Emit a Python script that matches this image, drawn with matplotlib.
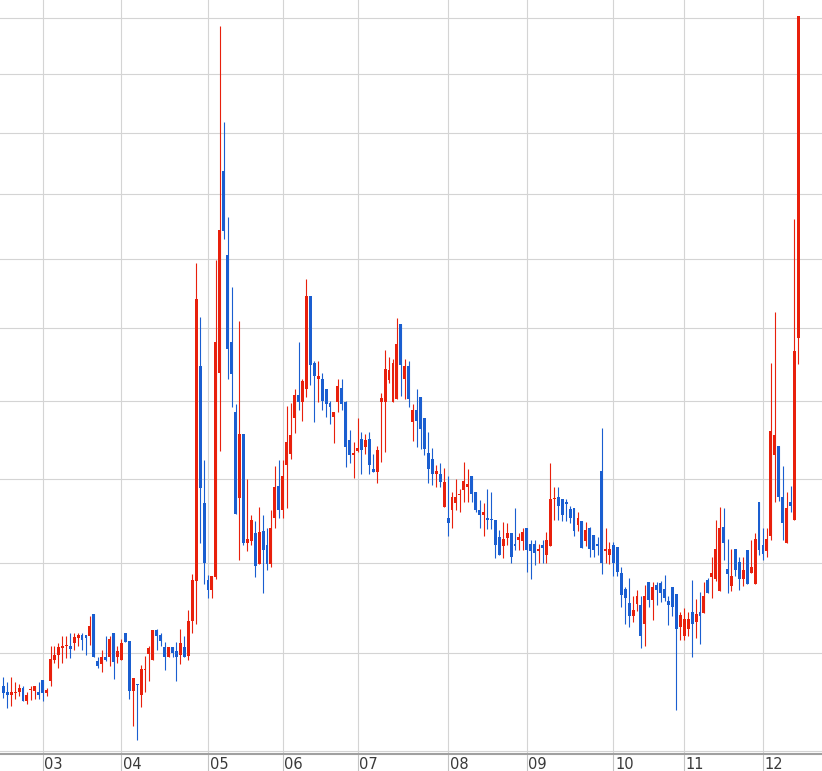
"""candlestick chart, 2002-2012, log price axis, year gridlines only"""

import numpy as np
import matplotlib
matplotlib.use("Agg")
import matplotlib.pyplot as plt
from matplotlib.ticker import NullLocator

# candles, oldest first (price, won)
opens = [
    2430, 2418, 2413, 2417, 2418, 2426, 2399, 2423, 2421, 2418,
    2443, 2416, 2442, 2486, 2497, 2512, 2515, 2516, 2522, 2532,
    2538, 2538, 2537, 2585, 2483, 2477, 2492, 2492, 2544, 2492,
    2486, 2543, 2526, 2421, 2434, 2413, 2465, 2499, 2486, 2550,
    2538, 2514, 2491, 2514, 2505, 2497, 2514, 2494, 2569, 2658,
    3194, 2843, 2661, 2638, 2668, 3176, 3775, 3512, 3262, 3073,
    2855, 3014, 2747, 2752, 2771, 2698, 2774, 2742, 2698, 2807,
    2884, 2824, 2935, 2963, 3056, 3117, 3099, 3132, 3393, 3202,
    3159, 3161, 3134, 3096, 3060, 3099, 3136, 3097, 2998, 2961,
    2972, 3003, 2981, 3003, 2927, 2919, 3099, 3099, 3156, 3099,
    3107, 3312, 3159, 3194, 3045, 3078, 3112, 3057, 2965, 2950,
    2914, 2914, 2832, 2807, 2824, 2841, 2861, 2874, 2880, 2908,
    2869, 2826, 2812, 2807, 2802, 2802, 2761, 2740, 2759, 2771,
    2744, 2754, 2751, 2783, 2744, 2744, 2728, 2742, 2718, 2740,
    2851, 2857, 2851, 2845, 2827, 2831, 2788, 2798, 2752, 2783,
    2766, 2744, 2921, 2729, 2718, 2742, 2737, 2677, 2641, 2610,
    2581, 2608, 2605, 2564, 2656, 2617, 2650, 2654, 2641, 2614,
    2645, 2630, 2557, 2537, 2552, 2590, 2568, 2590, 2588, 2661,
    2668, 2663, 2636, 2785, 2687, 2648, 2732, 2703, 2663, 2730,
    2678, 2652, 2845, 2742, 2728, 2764, 2961, 2985, 2857, 2747,
    2845, 2800, 3271,
]
highs = [
    2450, 2438, 2449, 2438, 2434, 2430, 2418, 2430, 2431, 2438,
    2443, 2426, 2515, 2515, 2522, 2537, 2537, 2543, 2543, 2543,
    2544, 2538, 2581, 2585, 2491, 2507, 2537, 2537, 2544, 2515,
    2530, 2544, 2526, 2447, 2434, 2475, 2493, 2515, 2550, 2553,
    2544, 2524, 2514, 2514, 2524, 2552, 2537, 2594, 2674, 3488,
    3333, 2949, 2672, 2670, 3497, 4272, 3935, 3630, 3419, 3093,
    3321, 3014, 2901, 2814, 2798, 2833, 2814, 2783, 2826, 2934,
    2949, 2949, 3088, 3096, 3134, 3262, 3161, 3442, 3393, 3210,
    3210, 3175, 3134, 3102, 3073, 3161, 3161, 3102, 3026, 2994,
    3057, 3021, 3014, 3019, 2963, 2983, 3121, 3238, 3221, 3213,
    3330, 3312, 3213, 3210, 3093, 3134, 3112, 3057, 3021, 2978,
    2937, 2942, 2929, 2908, 2869, 2901, 2876, 2944, 2926, 2908,
    2869, 2849, 2843, 2876, 2869, 2802, 2778, 2797, 2795, 2771,
    2831, 2771, 2783, 2783, 2754, 2754, 2744, 2754, 2773, 2942,
    2881, 2881, 2852, 2851, 2836, 2831, 2821, 2798, 2797, 2785,
    2766, 2761, 3029, 2783, 2749, 2749, 2737, 2692, 2646, 2665,
    2625, 2638, 2625, 2650, 2656, 2656, 2656, 2659, 2672, 2625,
    2645, 2630, 2590, 2598, 2590, 2661, 2618, 2634, 2656, 2665,
    2715, 2802, 2833, 2831, 2756, 2732, 2732, 2715, 2715, 2730,
    2754, 2771, 2845, 2783, 2783, 3202, 3347, 2985, 2934, 2869,
    2884, 3624, 4308,
]
lows = [
    2405, 2386, 2390, 2404, 2410, 2399, 2394, 2401, 2404, 2404,
    2399, 2411, 2431, 2479, 2468, 2479, 2490, 2490, 2507, 2515,
    2507, 2495, 2518, 2491, 2468, 2460, 2484, 2472, 2445, 2479,
    2486, 2524, 2403, 2349, 2321, 2387, 2418, 2442, 2486, 2507,
    2515, 2464, 2491, 2491, 2442, 2476, 2491, 2486, 2544, 2564,
    2747, 2652, 2621, 2621, 2663, 2970, 3562, 3159, 3086, 2816,
    2706, 2742, 2728, 2742, 2669, 2698, 2632, 2683, 2690, 2783,
    2807, 2807, 2829, 2952, 3016, 3076, 3048, 3111, 3143, 3045,
    3099, 3076, 3060, 3040, 2991, 3071, 3076, 2932, 2940, 2903,
    2969, 2914, 2963, 2914, 2919, 2892, 2943, 2968, 3148, 3099,
    3107, 3115, 3107, 3084, 2996, 2981, 2976, 2961, 2892, 2887,
    2882, 2881, 2832, 2764, 2781, 2824, 2820, 2844, 2844, 2844,
    2820, 2781, 2764, 2779, 2779, 2711, 2718, 2711, 2742, 2699,
    2730, 2730, 2730, 2679, 2664, 2695, 2701, 2701, 2701, 2740,
    2800, 2800, 2798, 2798, 2795, 2764, 2776, 2735, 2740, 2713,
    2713, 2718, 2675, 2699, 2697, 2671, 2671, 2601, 2564, 2557,
    2568, 2592, 2512, 2515, 2601, 2572, 2604, 2612, 2614, 2561,
    2581, 2382, 2528, 2528, 2537, 2491, 2532, 2519, 2588, 2632,
    2621, 2658, 2636, 2706, 2632, 2637, 2671, 2638, 2648, 2652,
    2678, 2652, 2718, 2706, 2713, 2754, 2845, 2848, 2754, 2747,
    2820, 2800, 3200,
]
closes = [
    2416, 2413, 2418, 2418, 2426, 2399, 2412, 2424, 2430, 2413,
    2417, 2423, 2488, 2497, 2514, 2516, 2516, 2509, 2534, 2538,
    2528, 2532, 2559, 2491, 2472, 2492, 2486, 2530, 2481, 2505,
    2521, 2524, 2421, 2447, 2433, 2466, 2466, 2510, 2550, 2537,
    2527, 2491, 2514, 2500, 2491, 2521, 2491, 2570, 2661, 3382,
    2879, 2701, 2638, 2670, 3262, 3590, 3587, 3241, 3173, 2816,
    3014, 2747, 2756, 2802, 2694, 2772, 2730, 2698, 2783, 2882,
    2824, 2908, 2993, 3012, 3117, 3099, 3153, 3393, 3199, 3167,
    3167, 3102, 3094, 3086, 3073, 3142, 3094, 2981, 2961, 2966,
    2978, 2973, 2998, 2935, 2919, 2975, 3109, 3186, 3183, 3202,
    3257, 3199, 3194, 3107, 3078, 3048, 3027, 2976, 2927, 2914,
    2922, 2893, 2893, 2794, 2857, 2857, 2862, 2896, 2889, 2863,
    2824, 2812, 2821, 2800, 2801, 2742, 2718, 2756, 2771, 2713,
    2739, 2761, 2773, 2730, 2728, 2723, 2732, 2735, 2754, 2852,
    2852, 2836, 2812, 2840, 2807, 2776, 2807, 2735, 2778, 2732,
    2730, 2740, 2701, 2730, 2732, 2701, 2679, 2628, 2621, 2581,
    2594, 2625, 2537, 2625, 2617, 2645, 2639, 2632, 2621, 2604,
    2601, 2552, 2583, 2574, 2574, 2564, 2585, 2581, 2625, 2632,
    2676, 2732, 2783, 2747, 2674, 2670, 2685, 2663, 2685, 2652,
    2692, 2756, 2730, 2720, 2756, 3022, 3011, 2856, 2795, 2831,
    2836, 3235, 4308,
]

# candle index where each year starts, and its label
year_start = [10, 30, 52, 71, 90, 113, 133, 155, 173, 193]
year_labels = ["03", "04", "05", "06", "07", "08", "09", "10", "11", "12"]

# horizontal gridline prices
price_grid = [2300, 2500, 2700, 2900, 3100, 3300, 3500, 3700, 3900, 4100, 4300]

up_color = "#e8200c"
down_color = "#1a5ed0"
grid_color = "#d4d4d4"

o, h, l, c = (np.array(v, dtype=float) for v in (opens, highs, lows, closes))
x = np.arange(len(c))
colors = np.where(c >= o, up_color, down_color)

fig = plt.figure(figsize=(8.22, 7.71), dpi=100)
ax = fig.add_axes([0, 17.5 / 771, 1, 753.5 / 771])
ax.set_yscale("log")

ax.vlines(x, l, h, colors=colors, lw=0.8, zorder=3)
bottom = np.minimum(o, c)
height = np.maximum(np.maximum(o, c) - bottom, bottom * 0.0009)  # doji still shows as a line
ax.bar(x, height, bottom=bottom, width=0.74, color=colors, linewidth=0, zorder=4,
       antialiased=False)

ax.set_xlim(-0.84, 208.0)
ax.set_ylim(2294.5, 4368)

ax.set_yticks(price_grid)
ax.yaxis.set_minor_locator(NullLocator())
ax.set_xticks(year_start)
ax.grid(True, color=grid_color, lw=0.8)
ax.set_axisbelow(True)
ax.tick_params(axis="y", left=False, labelleft=False)
ax.tick_params(axis="x", direction="out", length=13, width=0.8, color="#c4c4c4",
               labelbottom=False)

for s in ("left", "right", "top"):
    ax.spines[s].set_visible(False)
ax.spines["bottom"].set_color("#a0a0a0")
ax.spines["bottom"].set_linewidth(1.5)

for xi, lab in zip(year_start, year_labels):
    ax.annotate(lab, (xi, 0), xycoords=("data", "axes fraction"), xytext=(1.2, -2.5),
                textcoords="offset points", ha="left", va="top", fontsize=10.5,
                color="#3a3a3a",
                family=["Liberation Sans Narrow", "DejaVu Sans Condensed", "DejaVu Sans"])

fig.savefig("out.png", dpi=100)
